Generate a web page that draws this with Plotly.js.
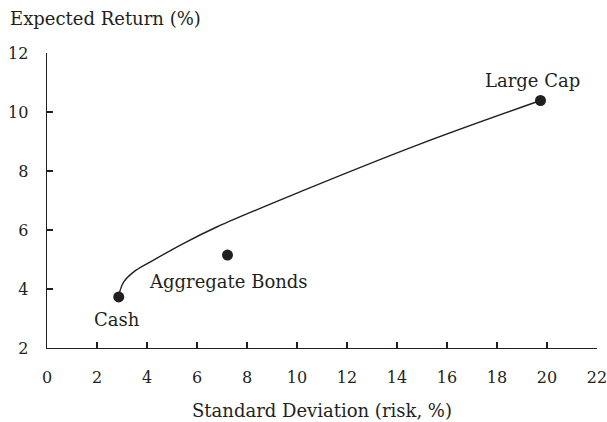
<!DOCTYPE html>
<html>
<head>
<meta charset="utf-8">
<script src="https://cdn.plot.ly/plotly-3.0.1.min.js"></script>
<style>html,body{margin:0;padding:0;background:#fff;}</style>
</head>
<body>
<div id="chart" style="width:607px;height:422px;"></div>
<script>
// Asset points
const assetNames = ["Cash", "Aggregate Bonds", "Large Cap"];
const assetRisk = [2.87, 7.22, 19.74];
const assetReturn = [3.73, 5.15, 10.39];

// Efficient frontier curve
const frontierRisk = [2.87, 2.92, 3.07, 3.47, 4.14, 5.47, 6.81, 10.14, 14.94, 19.74];
const frontierReturn = [3.73, 3.94, 4.24, 4.58, 4.92, 5.55, 6.11, 7.30, 8.92, 10.39];

// Axis ticks
const xTicks = [0, 2, 4, 6, 8, 10, 12, 14, 16, 18, 20, 22];
const yTicks = [2, 4, 6, 8, 10, 12];

const ink = "#231f20";
const fontFam = "DejaVu Serif, serif";
const fsTick = 16;
const fsText = 18;

const labelShift = [
  {xshift: -2, yshift: -23},
  {xshift: 1, yshift: -26},
  {xshift: -8, yshift: 20}
];

const data = [
  {
    x: frontierRisk, y: frontierReturn, type: "scatter", mode: "lines",
    line: {color: ink, width: 1.4, shape: "spline", smoothing: 1},
    hoverinfo: "skip", showlegend: false
  },
  {
    x: assetRisk, y: assetReturn, type: "scatter", mode: "markers",
    marker: {color: ink, size: 11},
    text: assetNames, showlegend: false
  }
];

const annotations = assetNames.map((n, i) => ({
  x: assetRisk[i], y: assetReturn[i], xref: "x", yref: "y",
  text: n, showarrow: false,
  xshift: labelShift[i].xshift, yshift: labelShift[i].yshift,
  font: {family: fontFam, size: fsText, color: ink}
}));
annotations.push({
  x: 0, y: 1, xref: "paper", yref: "paper",
  xanchor: "left", yanchor: "middle",
  xshift: -39, yshift: 35,
  text: "Expected Return (%)", showarrow: false,
  font: {family: fontFam, size: fsText, color: ink}
});

const layout = {
  width: 607, height: 422,
  margin: {l: 46.5, r: 10, t: 53, b: 74},
  paper_bgcolor: "#fff", plot_bgcolor: "#fff",
  font: {family: fontFam, size: fsText, color: ink},
  xaxis: {
    range: [0, 22], tickvals: xTicks, ticktext: xTicks.map(String),
    showgrid: false, zeroline: false,
    showline: true, linecolor: ink, linewidth: 1.4,
    ticks: "inside", ticklen: 6, tickcolor: ink, tickwidth: 1.2,
    ticklabelstandoff: 14, ticklabeloverflow: "allow",
    tickfont: {family: fontFam, size: fsTick, color: ink},
    title: {text: "Standard Deviation (risk, %)", font: {family: fontFam, size: fsText, color: ink}, standoff: 19}
  },
  yaxis: {
    range: [2, 12], tickvals: yTicks, ticktext: yTicks.map(String),
    showgrid: false, zeroline: false,
    showline: true, linecolor: ink, linewidth: 1.4,
    ticks: "inside", ticklen: 6, tickcolor: ink, tickwidth: 1.2,
    ticklabelstandoff: 14,
    tickfont: {family: fontFam, size: fsTick, color: ink}
  },
  annotations: annotations,
  hovermode: false
};

Plotly.newPlot("chart", data, layout, {displayModeBar: false, staticPlot: true});
</script>
</body>
</html>
